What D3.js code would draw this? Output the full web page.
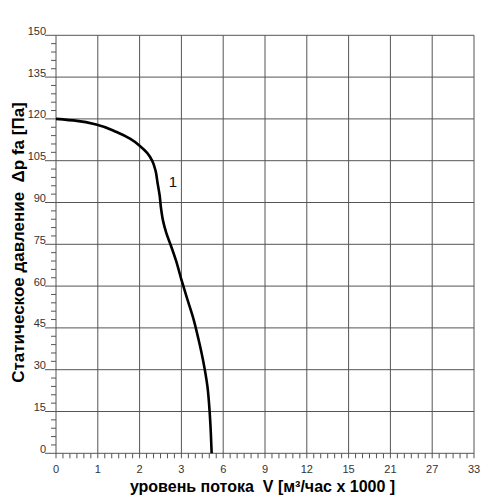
<!DOCTYPE html>
<html>
<head>
<meta charset="utf-8">
<style>
body { margin: 0; background: #fff; }
text { font-family: "Liberation Sans", Arial, sans-serif; white-space: pre; }
</style>
</head>
<body>
<svg width="497" height="500"></svg>
<script src="https://d3js.org/d3.v7.min.js"></script>
<script>
// x axis is not uniform: 0..3 step 1, then 6, 9, ... each at equal spacing
var xTicks = [0, 1, 2, 3, 6, 9, 12, 15, 21, 27, 33]
var yTicks = [0, 15, 30, 45, 60, 75, 90, 105, 120, 135, 150]

// curve 1
var flowV = [0, 0.5, 1, 1.45, 1.78, 2.0, 2.18, 2.30, 2.38, 2.43, 2.48, 2.51, 2.56, 2.64, 2.75, 2.87, 3.0, 3.38, 3.85, 4.21, 4.55, 4.87, 5.03, 5.11, 5.17]
var pressure = [120, 119.3, 117.8, 115.3, 112.8, 110.4, 107.8, 105.0, 101.5, 97, 92.5, 88.2, 83.5, 79, 74.5, 69.2, 62.3, 56.0, 48.5, 41.3, 33.5, 23.9, 14.7, 7.6, 0]
var curveLabel = {v: 2.8, p: 95.6, text: "1"}

var mLeft = 56, mRight = 474, mTop = 35.3, mBottom = 453.3

var x = d3.scaleLinear()
  .domain(xTicks)
  .range(xTicks.map(function(d, i) { return mLeft + i * (mRight - mLeft) / (xTicks.length - 1) }))
var y = d3.scaleLinear().domain([0, 150]).range([mBottom, mTop])

var svg = d3.select('svg')
var grid = '#555'

// horizontal grid, reaching left under the labels
svg.append('g').selectAll('line').data(yTicks).enter().append('line')
  .attr('x1', 45).attr('x2', mRight)
  .attr('y1', function(d) { return y(d) }).attr('y2', function(d) { return y(d) })
  .attr('stroke', grid).attr('stroke-width', 1)

// vertical grid, a little below the axis
svg.append('g').selectAll('line').data(xTicks).enter().append('line')
  .attr('x1', function(d) { return x(d) }).attr('x2', function(d) { return x(d) })
  .attr('y1', mTop).attr('y2', mBottom + 5)
  .attr('stroke', grid).attr('stroke-width', 1)

// minor ticks y: 4 between majors
var yMinor = []
for (var i = 0; i < yTicks.length - 1; i++)
  for (var k = 1; k < 5; k++) yMinor.push(yTicks[i] + k * (yTicks[i + 1] - yTicks[i]) / 5)
svg.append('g').selectAll('line').data(yMinor).enter().append('line')
  .attr('x1', mLeft - 5).attr('x2', mLeft)
  .attr('y1', function(d) { return y(d) }).attr('y2', function(d) { return y(d) })
  .attr('stroke', grid).attr('stroke-width', 1)

// minor ticks x: 5 between majors
var xMinor = []
for (var i = 0; i < xTicks.length - 1; i++)
  for (var k = 1; k < 6; k++) xMinor.push(xTicks[i] + k * (xTicks[i + 1] - xTicks[i]) / 6)
svg.append('g').selectAll('line').data(xMinor).enter().append('line')
  .attr('x1', function(d) { return x(d) }).attr('x2', function(d) { return x(d) })
  .attr('y1', mBottom).attr('y2', mBottom + 5)
  .attr('stroke', grid).attr('stroke-width', 1)

// tick labels
svg.append('g').selectAll('text').data(yTicks).enter().append('text')
  .attr('x', 46).attr('y', function(d) { return y(d) - 0.5 })
  .attr('text-anchor', 'end').attr('font-size', 11).attr('fill', '#333')
  .text(function(d) { return d })
svg.append('g').selectAll('text').data(xTicks).enter().append('text')
  .attr('x', function(d) { return x(d) }).attr('y', 473)
  .attr('text-anchor', 'middle').attr('font-size', 11).attr('fill', '#333')
  .text(function(d) { return d })

// the curve
var pts = flowV.map(function(d, i) { return [x(d), y(pressure[i])] })
svg.append('path').datum(pts)
  .attr('d', d3.line().curve(d3.curveMonotoneY))
  .attr('fill', 'none').attr('stroke', '#000').attr('stroke-width', 2.6)

svg.append('text')
  .attr('x', x(curveLabel.v)).attr('y', y(curveLabel.p))
  .attr('text-anchor', 'middle').attr('font-size', 15).attr('fill', '#111')
  .text(curveLabel.text)

// axis titles
svg.append('text')
  .attr('x', 262.5).attr('y', 492)
  .attr('text-anchor', 'middle').attr('font-size', 16).attr('font-weight', 'bold')
  .text('уровень потока  V [м³/час x 1000 ]')
svg.append('text')
  .attr('transform', 'translate(24,242.5) rotate(-90)')
  .attr('text-anchor', 'middle').attr('font-size', 17).attr('font-weight', 'bold')
  .text('Статическое давление  Δp fa [Па]')
</script>
</body>
</html>
